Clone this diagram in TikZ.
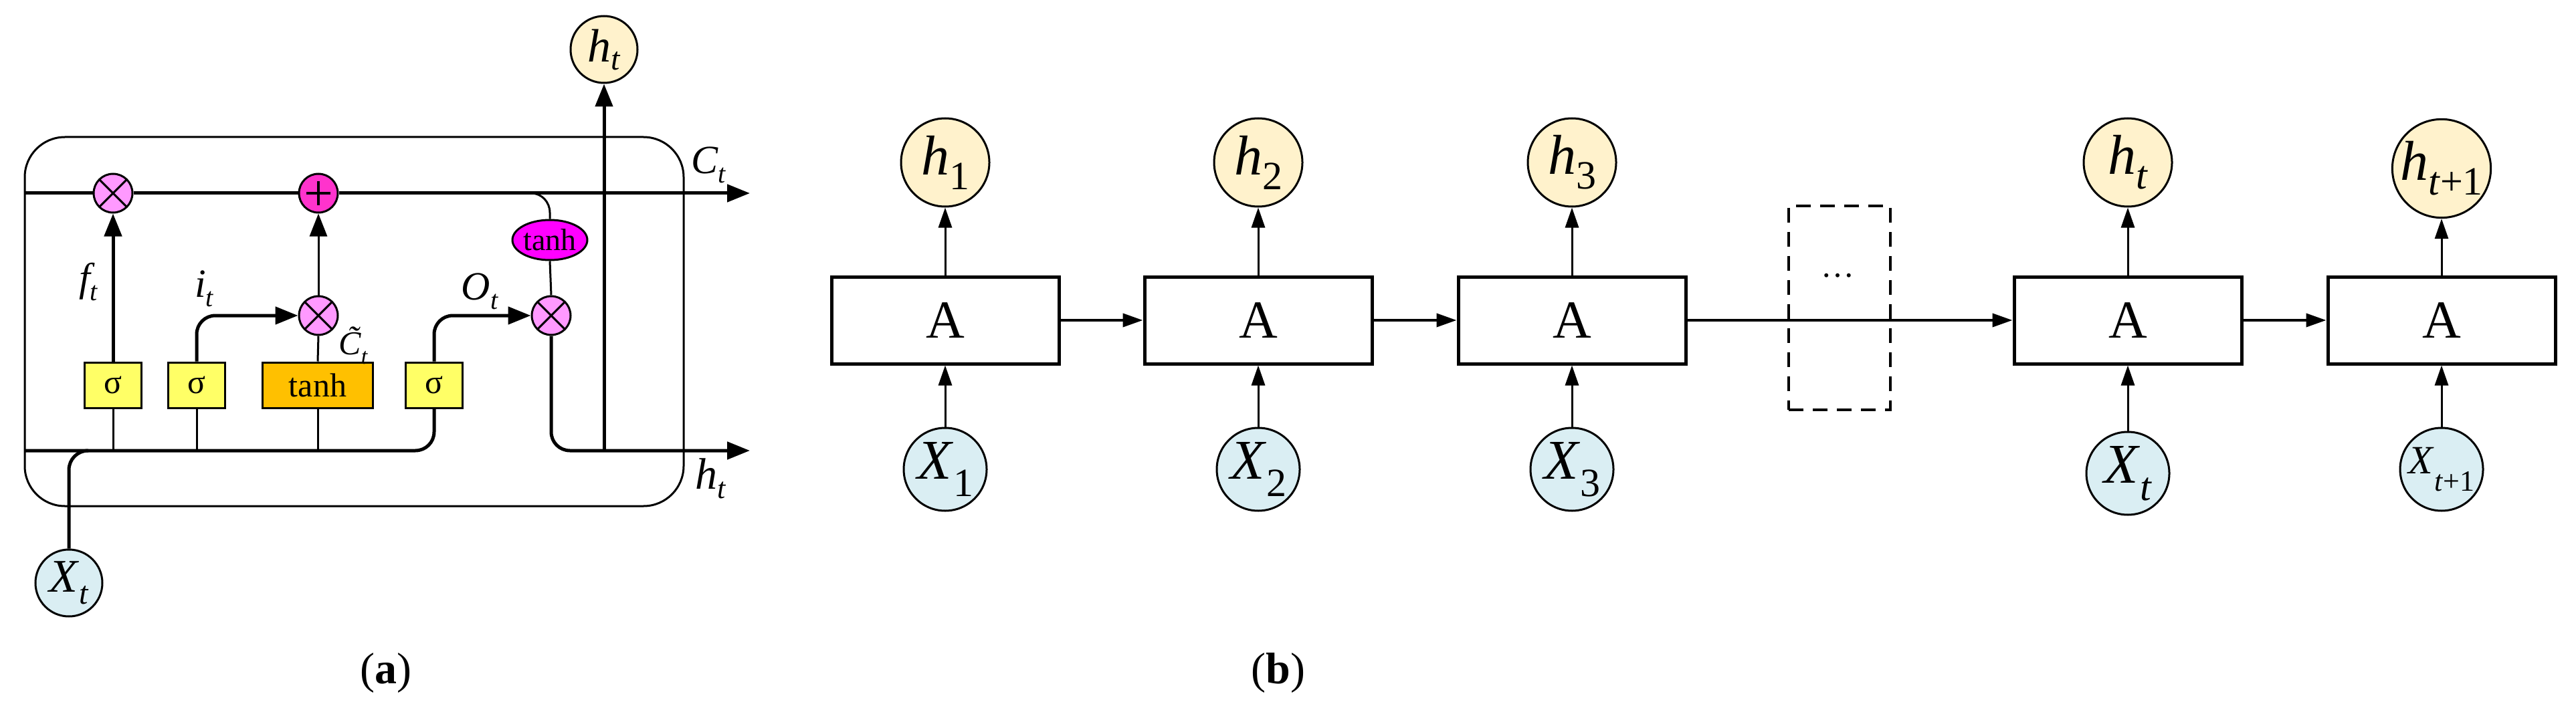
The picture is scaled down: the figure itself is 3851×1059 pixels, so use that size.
\documentclass[tikz,border=0pt]{standalone}
\usepackage{fontspec}
\setmainfont{Liberation Serif}
\usetikzlibrary{arrows.meta,shapes.geometric}
\definecolor{pk}{HTML}{FF99FF}
\definecolor{mg}{HTML}{FF33CC}
\definecolor{mgt}{HTML}{FF00FF}
\definecolor{yl}{HTML}{FFFF66}
\definecolor{og}{HTML}{FFC000}
\definecolor{hc}{HTML}{FFF2CC}
\definecolor{xc}{HTML}{DAEEF3}
\newcommand{\fs}[1]{\fontsize{#1}{#1}\selectfont}
\tikzset{
 thk/.style={line width=5pt},
 tip/.style={-{Triangle[length=34pt,width=26pt]}},
 tipb/.style={-{Triangle[length=30pt,width=20pt]}},
 mul/.style={circle,draw,line width=3pt,fill=pk,minimum size=58pt,inner sep=0pt,
   path picture={\draw[line width=3pt] (path picture bounding box.north west)--(path picture bounding box.south east)
     (path picture bounding box.north east)--(path picture bounding box.south west);}},
 add/.style={circle,draw,line width=3pt,fill=mg,minimum size=58pt,inner sep=0pt,
   path picture={\draw[line width=4pt] ([yshift=-11pt]path picture bounding box.north)--([yshift=11pt]path picture bounding box.south)
     ([xshift=11pt]path picture bounding box.west)--([xshift=-11pt]path picture bounding box.east);}},
 gate/.style={draw,line width=3pt,fill=yl,minimum width=85pt,minimum height=68pt,inner sep=0pt,font=\fs{50}},
 hn/.style={circle,draw,line width=3pt,fill=hc,minimum size=#1,inner sep=0pt},
 xn/.style={circle,draw,line width=3pt,fill=xc,minimum size=#1,inner sep=0pt},
 cell/.style={draw,line width=5pt,fill=white,minimum width=340pt,minimum height=130pt,inner sep=0pt,font=\fs{80}},
 lab/.style={font=\fs{60}\itshape},
}
\begin{document}
\begin{tikzpicture}[x=1pt,y=-1pt]
\useasboundingbox (0,0) rectangle (3851,1059);
% ---------- panel (a)
\draw[line width=3pt,rounded corners=60pt] (37,205) rectangle (1022,757);
\node[mul] (fg) at (169,289) {};
\node[add] (pl) at (476,289) {};
\node[ellipse,draw,line width=3pt,fill=mgt,minimum width=110pt,minimum height=60pt,inner sep=0pt,font=\fs{46}] (te) at (822,359) {tanh};
\node[mul] (ig) at (476,472) {};
\node[mul] (om) at (824,472) {};
\node[gate] (s1) at (169,576) {σ};
\node[gate] (s2) at (294,576) {σ};
\node[gate,fill=og,minimum width=165pt] (tb) at (475,576) {tanh};
\node[gate] (s3) at (649,576) {σ};
\node[hn=100pt] (ht) at (903,74) {\fs{70}\textit{h}\raisebox{-12pt}{\fs{48}\textit{t}}};
\node[xn=100pt] (xt) at (103,872) {\fs{70}\textit{X}\raisebox{-18pt}{\fs{48}\textit{t}}};
\coordinate (cs) at (37,289); \coordinate (ce) at (1121,289);
\coordinate (hs) at (37,674); \coordinate (he) at (1121,674);
\draw[thk,tip] (cs) -- (fg.west) (fg.east) -- (pl.west) (pl.east) -- (ce);
\draw[line width=3pt] (794,289) to[out=0,in=90] (822,318) -- (te.north);
\draw[thk] (hs) -- (621,674) to[out=0,in=-90] (649,646) -- (s3.south);
\draw[thk] (xt.north) -- (103,703) to[out=90,in=180] (132,674);
\draw[line width=3pt] (s1.south) -- (169,674) (s2.south) -- (294,674) (tb.south) -- (475,674);
\draw[thk,tip] (s1.north) -- (fg.south);
\draw[line width=3pt] (tb.north) -- (ig.south);
\draw[line width=3pt,tip] (ig.north) -- (pl.south);
\draw[thk,tip] (s2.north) -- (294,500) to[out=90,in=180] (322,472) -- (ig.west);
\draw[thk,tip] (s3.north) -- (649,500) to[out=90,in=180] (677,472) -- (om.west);
\draw[line width=3pt] (te.south) -- (om.north);
\draw[thk,tip] (om.south) -- (824,646) to[out=-90,in=180] (852,674) -- (he);
\draw[thk,tip] (903,674) -- (ht.south);
\node[lab] at (132,422) {f\raisebox{-14pt}{\fs{40}t}};
\node[lab] at (305,432) {i\raisebox{-14pt}{\fs{40}t}};
\node[lab,font=\fs{50}\itshape] at (528,517) {\~{C}\raisebox{-14pt}{\fs{34}t}};
\node[lab] at (717,436) {O\raisebox{-14pt}{\fs{40}t}};
\node[lab] at (1059,247) {C\raisebox{-14pt}{\fs{40}t}};
\node[lab,font=\fs{66}\itshape] at (1062,716) {h\raisebox{-14pt}{\fs{44}t}};
\node[font=\fs{66}] at (577,1007) {(\textbf{a})};
% ---------- panel (b)
\foreach \n/\x in {1/1413,2/1881,3/2350,4/3181,5/3650}{
  \node[cell] (A\n) at (\x,479) {A};
}
\node[hn=132pt] (h1) at (1413,243) {\fs{84}\textit{h}\raisebox{-22pt}{\fs{60}1}};
\node[hn=132pt] (h2) at (1881,243) {\fs{84}\textit{h}\raisebox{-22pt}{\fs{60}2}};
\node[hn=132pt] (h3) at (2350,243) {\fs{84}\textit{h}\raisebox{-22pt}{\fs{60}3}};
\node[hn=132pt] (h4) at (3181,243) {\fs{84}\textit{h}\raisebox{-22pt}{\fs{60}\textit{t}}};
\node[hn=132pt] (h5) at (3650,252) {\fs{84}\textit{h}\raisebox{-22pt}{\fs{60}\textit{t}+1}};
\node[xn=124pt] (x1) at (1413,702) {\fs{84}\textit{X}\raisebox{-26pt}{\fs{60}1}};
\node[xn=124pt] (x2) at (1881,702) {\fs{84}\textit{X}\raisebox{-26pt}{\fs{60}2}};
\node[xn=124pt] (x3) at (2350,702) {\fs{84}\textit{X}\raisebox{-26pt}{\fs{60}3}};
\node[xn=124pt] (x4) at (3181,708) {\fs{84}\textit{X}\raisebox{-26pt}{\fs{60}\textit{t}}};
\node[xn=124pt] (x5) at (3650,702) {\fs{60}\textit{X}\raisebox{-26pt}{\fs{44}\textit{t}+1}};
\node[draw,dash pattern=on 22pt off 14pt,line width=4pt,minimum width=152pt,minimum height=305pt,inner sep=0pt] (dd) at (2750,460) {};
\node[font=\fs{50}] (dots) at (2747,412) {\dots};
\foreach \n in {1,...,5}{
  \draw[line width=3pt,tipb] (A\n.north) -- (h\n.south);
  \draw[line width=3pt,tipb] (x\n.north) -- (A\n.south);
}
\draw[line width=4pt,tipb] (A1.east) -- (A2.west);
\draw[line width=4pt,tipb] (A2.east) -- (A3.west);
\draw[line width=4pt,tipb] (A3.east) -- (A4.west);
\draw[line width=4pt,tipb] (A4.east) -- (A5.west);
\node[font=\fs{66}] at (1911,1007) {(\textbf{b})};
\end{tikzpicture}
\end{document}
